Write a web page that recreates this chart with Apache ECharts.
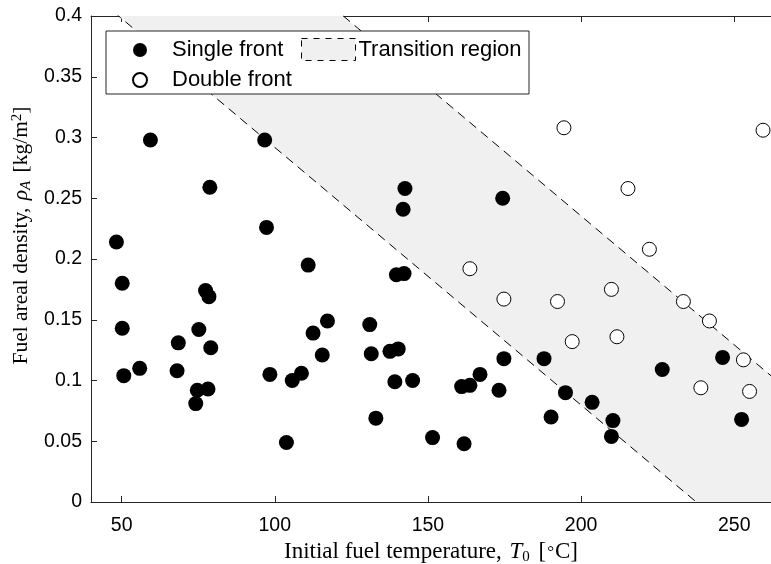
<!DOCTYPE html>
<html>
<head>
<meta charset="utf-8">
<script src="https://cdn.jsdelivr.net/npm/echarts@6/dist/echarts.min.js"></script>
<style>
  html, body { margin: 0; padding: 0; background: #fff; }
  #chart { width: 771px; height: 564px; }
</style>
</head>
<body>
<div id="chart"></div>
<script>
// Experiments that ended in a single flame front: [T0 (°C), rhoA (kg/m^2)]
const singleFront = [
  [59.4, 0.298], [96.7, 0.298], [78.8, 0.259], [97.3, 0.226], [48.3, 0.214],
  [110.9, 0.195], [142.5, 0.258], [141.9, 0.241], [174.4, 0.250], [139.7, 0.187],
  [142.2, 0.188], [50.2, 0.180], [50.2, 0.143], [50.7, 0.104], [55.9, 0.110],
  [68.5, 0.131], [68.1, 0.108], [75.2, 0.142], [77.4, 0.174], [78.5, 0.169],
  [79.1, 0.127], [74.7, 0.092], [78.2, 0.093], [74.2, 0.081], [98.4, 0.105],
  [105.7, 0.100], [108.7, 0.106], [103.8, 0.049], [112.5, 0.139], [117.2, 0.149],
  [115.5, 0.121], [131.0, 0.146], [131.5, 0.122], [137.6, 0.124], [140.3, 0.126],
  [139.2, 0.099], [145.0, 0.100], [133.0, 0.069], [151.5, 0.053], [161.8, 0.048],
  [161.0, 0.095], [163.7, 0.096], [167.0, 0.105], [173.2, 0.092], [174.8, 0.118],
  [187.9, 0.118], [190.2, 0.070], [194.9, 0.090], [203.6, 0.082], [210.4, 0.067],
  [209.9, 0.054], [226.5, 0.109], [246.2, 0.119], [252.4, 0.068]
];

// Experiments that produced a double front
const doubleFront = [
  [194.4, 0.308], [259.4, 0.306], [215.3, 0.258], [222.3, 0.208], [163.7, 0.192],
  [174.8, 0.167], [192.3, 0.165], [209.9, 0.175], [233.4, 0.165], [241.9, 0.149],
  [197.1, 0.132], [211.7, 0.136], [253.0, 0.117], [239.1, 0.094], [255.0, 0.091]
];

// Edges of the transition band (parallel straight lines)
const lowerEdge = [[40, 0.4191], [237.6, 0]];
const upperEdge = [[122.3, 0.4002], [262, 0.1039]];
// Shaded band, clipped to the axes box
const bandVertices = [[49, 0.4], [122.3, 0.4], [262, 0.1039], [262, 0], [237.6, 0]];

const xTicks = [50, 100, 150, 200, 250];
const xRange = [40, 262];
const yRange = [0, 0.4];
const yStep = 0.05;

const tickFont = 'Liberation Sans';
const serifFont = 'Liberation Serif';
const axisColor = '#262626';

const chart = echarts.init(document.getElementById('chart'), null, { renderer: 'canvas' });

chart.setOption({
  animation: false,
  backgroundColor: '#fff',
  grid: { left: 91, top: 16, width: 680, bottom: 62, containLabel: false, outerBoundsMode: 'none' },
  xAxis: [
    {
      type: 'value', min: xRange[0], max: xRange[1], position: 'bottom',
      splitLine: { show: false },
      axisLine: { lineStyle: { color: axisColor, width: 1 } },
      axisTick: { inside: true, length: 6, customValues: xTicks, lineStyle: { color: axisColor } },
      axisLabel: { customValues: xTicks, color: '#000', fontFamily: tickFont, fontSize: 19.5, margin: 14 },
      name: 'Initial fuel temperature, {i|T}{sub|0} [{deg|°}C]',
      nameLocation: 'middle', nameGap: 32,
      nameTextStyle: {
        fontFamily: serifFont, fontSize: 23, color: '#000',
        rich: {
          i: { fontFamily: serifFont, fontStyle: 'italic', fontSize: 23, padding: [0, 0, 0, 2] },
          sub: { fontFamily: serifFont, fontSize: 15, padding: [9, 3, 0, 0] },
          deg: { fontFamily: serifFont, fontSize: 17, padding: [0, 1, 0, 1] }
        }
      }
    },
    {
      type: 'value', min: xRange[0], max: xRange[1], position: 'top',
      splitLine: { show: false },
      axisLine: { lineStyle: { color: axisColor, width: 1 } },
      axisTick: { inside: true, length: 6, customValues: xTicks, lineStyle: { color: axisColor } },
      axisLabel: { show: false }
    }
  ],
  yAxis: {
    type: 'value', min: yRange[0], max: yRange[1], interval: yStep,
    splitLine: { show: false },
    axisLine: { show: true, lineStyle: { color: axisColor, width: 1 } },
    axisTick: { show: true, inside: true, length: 6, lineStyle: { color: axisColor } },
    axisLabel: { color: '#000', fontFamily: tickFont, fontSize: 19.5, margin: 9 },
    name: 'Fuel areal density, {i|ρ}{sub|A} [kg/m{sup|2}]',
    nameLocation: 'middle', nameGap: 56,
    nameTextStyle: {
      fontFamily: serifFont, fontSize: 21.5, color: '#000',
      padding: [0, 0, 0, 47],
      rich: {
        i: { fontFamily: serifFont, fontStyle: 'italic', fontSize: 21.5, padding: [0, 0, 0, 2] },
        sub: { fontFamily: serifFont, fontStyle: 'italic', fontSize: 15, padding: [9, 3, 0, 0] },
        sup: { fontFamily: serifFont, fontSize: 15, padding: [0, 0, 9, 0] }
      }
    }
  },
  legend: [
    {
      orient: 'vertical', left: 132, top: 39, itemGap: 8, padding: 0,
      itemWidth: 14, itemHeight: 14,
      data: ['Single front', 'Double front'],
      textStyle: { fontFamily: tickFont, fontSize: 22, color: '#000', padding: [0, 0, 0, 20] },
      z: 11
    },
    {
      left: 301, top: 38, itemWidth: 54, itemHeight: 22, padding: 0,
      data: [{
        name: 'Transition region', icon: 'rect',
        itemStyle: { color: '#f0f0f0', borderColor: '#000', borderWidth: 1, borderType: [6, 6] }
      }],
      textStyle: { fontFamily: tickFont, fontSize: 22, color: '#000', padding: [0, 0, 0, -2] },
      z: 11
    }
  ],
  graphic: [{
    type: 'rect', left: 105.5, top: 30.5, z: 10,
    shape: { width: 423, height: 63 },
    style: { fill: '#fff', stroke: axisColor, lineWidth: 1 }
  }],
  series: [
    {
      name: 'Transition region', type: 'custom', z: 1, clip: true,
      data: [[0]],
      renderItem: function (params, api) {
        const pts = bandVertices.map(v => api.coord(v));
        return { type: 'polygon', shape: { points: pts }, style: { fill: '#f0f0f0' } };
      },
      itemStyle: { color: '#f0f0f0', borderColor: '#000', borderWidth: 1, borderType: [6, 6] },
      silent: true
    },
    {
      type: 'line', z: 2, data: lowerEdge, symbol: 'none', clip: true, silent: true,
      lineStyle: { color: '#000', width: 1, type: [9, 6] }
    },
    {
      type: 'line', z: 2, data: upperEdge, symbol: 'none', clip: true, silent: true,
      lineStyle: { color: '#000', width: 1, type: [9, 6] }
    },
    {
      name: 'Single front', type: 'scatter', z: 3, data: singleFront,
      symbol: 'circle', symbolSize: 15,
      itemStyle: { color: '#000', opacity: 1 }
    },
    {
      name: 'Double front', type: 'scatter', z: 3, data: doubleFront,
      symbol: 'circle', symbolSize: 14,
      itemStyle: { color: '#fff', borderColor: '#000', borderWidth: 1, opacity: 1 }
    }
  ]
});
</script>
</body>
</html>
